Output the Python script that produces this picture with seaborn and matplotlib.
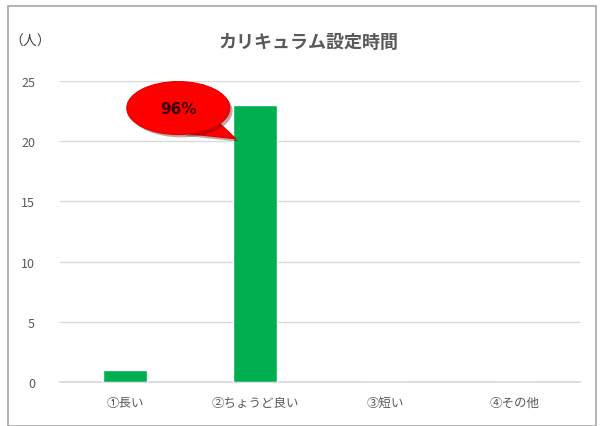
import matplotlib
matplotlib.use("Agg")
import matplotlib.pyplot as plt
import seaborn as sns
import pandas as pd
from matplotlib.patches import Ellipse, Polygon, Rectangle
import matplotlib.patheffects as pe

categories = ["①長い", "②ちょうど良い", "③短い", "④その他"]
values = [1, 23, 0, 0]
yticks = [0, 5, 10, 15, 20, 25]
title = "カリキュラム設定時間"
unit_label = "（人）"
callout_text = "96%"

sns.set_theme(style="white")
plt.rcParams['font.family'] = ['Noto Sans CJK JP', 'DejaVu Sans']

W, H = 602, 427
fig = plt.figure(figsize=(W / 100, H / 100), dpi=100)
ax = fig.add_axes([60 / W, 44 / H, 520 / W, 301 / H])

df = pd.DataFrame({"cat": categories, "val": values})
sns.barplot(data=df, x="cat", y="val", ax=ax, color="#00b050", saturation=1,
            width=0.34, zorder=3)

ax.set_xlim(-0.5, 3.5)
ax.set_ylim(0, 25)
ax.set_yticks(yticks)
ax.yaxis.grid(True, color="#d9d9d9", linewidth=1, zorder=0)
ax.set_axisbelow(True)
for s in ["top", "right", "left"]:
    ax.spines[s].set_visible(False)
ax.spines["bottom"].set_color("#d9d9d9")
ax.set_xlabel("")
ax.set_ylabel("")
ax.tick_params(axis="y", length=0, pad=18, labelsize=9, labelcolor="#595959")
ax.tick_params(axis="x", length=0, pad=10, labelsize=9, labelcolor="#595959")

fig.text(308 / W, 1 - 42 / H, title, ha="center", va="center", fontsize=13,
         color="#595959", fontweight="bold")
fig.text(30 / W, 1 - 42 / H, unit_label, ha="center", va="center", fontsize=10,
         color="#404040")

# callout balloon
ppx = 520 / 4  # pixels per x unit
ppy = 301 / 25
cx = 0.41
cy = 22.75
bar_left = 1 - 0.17
shadow = [pe.SimplePatchShadow(offset=(2, -2), alpha=0.35), pe.Normal()]
tail = Polygon([(cx + 4 / ppx, cy - 25 / ppy), (cx + 40 / ppx, cy - 14 / ppy),
                (bar_left + 3 / ppx, 20.2)], closed=True, facecolor="#ff0000",
               edgecolor="#e00000", linewidth=0.8, zorder=5, clip_on=False)
tail.set_path_effects(shadow)
ax.add_patch(tail)
ell = Ellipse((cx, cy), 103 / ppx, 53 / ppy, facecolor="#ff0000",
              edgecolor="#e00000", linewidth=0.8, zorder=6, clip_on=False)
ell.set_path_effects(shadow)
ax.add_patch(ell)
ax.text(cx, cy, callout_text, ha="center", va="center", fontsize=11,
        fontweight="bold", color="#3a0000", zorder=7, family=["DejaVu Sans"])

# outer frame
fig.patches.append(Rectangle((8 / W, 0), 588 / W, 1 - 7 / H, transform=fig.transFigure,
                             fill=False, edgecolor="#a6a6a6", linewidth=1.2))

fig.savefig("out.png", dpi=100)
